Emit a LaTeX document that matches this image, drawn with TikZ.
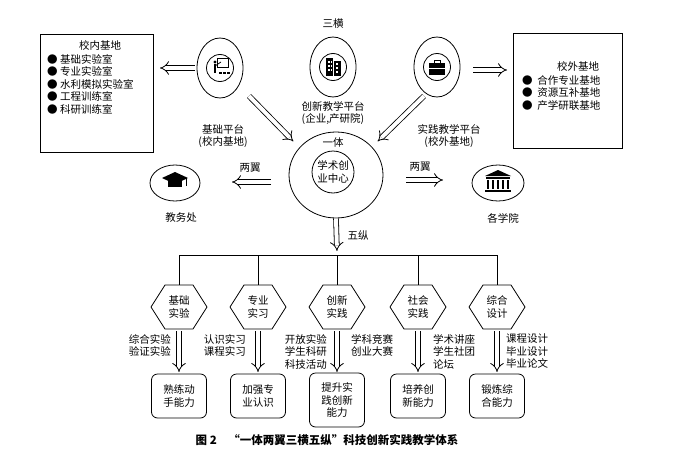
\documentclass[tikz,border=0pt]{standalone}
\usepackage{fontspec}
\setmainfont{Noto Sans CJK SC}
\usetikzlibrary{shapes.geometric,arrows.meta}
\begin{document}
\begin{tikzpicture}[x=1pt,y=-1pt,font=\fontsize{10.5}{12.5}\selectfont,
  box/.style={draw,thick,fill=white},
  hol/.style={draw,double,double distance=4pt,thick,-{Implies},shorten >=1pt},
  rr/.style={draw,thick,rounded corners=6pt,minimum width=55pt,minimum height=44pt,align=center},
  lab/.style={align=center,inner sep=1pt}]
\useasboundingbox (0,0) rectangle (700,460);
% boxes
\node[box,minimum width=113pt,minimum height=118pt] (lb) at (96.5,93) {};
\node[lab] (lbt) at (100,45) {校内基地};
\node[lab,align=left,anchor=north west] (lbl) at (46,53) {●\ 基础实验室\\●\ 专业实验室\\●\ 水利模拟实验室\\●\ 工程训练室\\●\ 科研训练室};
\node[box,minimum width=109pt,minimum height=115pt] (rb) at (567.5,90.5) {};
\node[lab] (rbt) at (578,66) {校外基地};
\node[lab,align=left,anchor=north west] (rbl) at (521,74) {●\ \ 合作专业基地\\●\ \ 资源互补基地\\●\ \ 产学研联基地};
% top circles
\node[draw,thick,ellipse,minimum width=46pt,minimum height=60pt] (c1) at (220,68) {};
\node[draw,thick,circle,minimum size=27pt] (i1) at (220,68) {};
\node[draw,thick,ellipse,minimum width=46pt,minimum height=60pt] (c2) at (333,67) {};
\node[draw,thick,circle,minimum size=27pt] (i2) at (333,67) {};
\node[draw,thick,ellipse,minimum width=46pt,minimum height=60pt] (c3) at (437,67) {};
\node[draw,thick,circle,minimum size=27pt] (i3) at (437,67) {};
% icons
\fill (215,62) circle (1.6);
\draw[line width=1.5pt] (215,64)--(215,73);
\draw[thick] (217,58) rectangle (228,67);
\draw[thick] (215,66)--(221,62);
\foreach \i in {219,223,227} \fill (\i,74) rectangle ++(2.5,-2.5);
\fill (326,58) rectangle (333,76); \fill (334,61) rectangle (341,76);
\foreach \yy in {61,65,69} {\fill[white] (328,\yy) rectangle ++(1.5,2); \fill[white] (331,\yy) rectangle ++(1,2); \fill[white] (336,\yy+2) rectangle ++(1.5,2);}
\fill (429,63) rectangle (445,75);
\draw[thick] (434,63)--(434,60)--(440,60)--(440,63);
\draw[white,thick] (429,68)--(445,68);
% texts top
\node[lab] (t3) at (333,24) {三横};
\node[lab] (t2) at (333,113) {创新教学平台\\(企业,产研院)};
\node[lab] (t1) at (223,136) {基础平台\\(校内基地)};
\node[lab] (t4) at (449,136) {实践教学平台\\(校外基地)};
% center
\node[draw,thick,ellipse,minimum width=94pt,minimum height=86pt] (cen) at (336,175) {};
\node[draw,thick,circle,minimum size=42pt,lab] (cin) at (333,172) {学术创\\业中心};
\node[lab] (yt) at (333,143) {一体};
% wings
\node[draw,thick,ellipse,minimum width=50pt,minimum height=36pt] (jw) at (175,183) {};
\node[lab] (jwt) at (181,218) {教务处};
\node[draw,thick,ellipse,minimum width=52pt,minimum height=36pt] (gx) at (498,183) {};
\node[lab] (gxt) at (503,218) {各学院};
\fill (162,178)--(175,172)--(188,178)--(175,184)--cycle;
\fill (168,181) rectangle (182,187);
\draw (186,178)--(186,186);
\fill (485,176)--(498,170)--(511,176)--cycle;
\fill (486,177) rectangle (510,179);
\foreach \i in {488,493,498,503,508} \fill (\i-1.2,180) rectangle ++(2.4,9);
\fill (485,190) rectangle (511,192);
% hollow arrows
\coordinate (a1s) at (195,68); \coordinate (a1e) at (159,68);
\draw[hol] (a1s)--(a1e);
\coordinate (a2s) at (473,70); \coordinate (a2e) at (508,70);
\draw[hol] (a2s)--(a2e);
\coordinate (d1s) at (249,96); \coordinate (d1e) at (294,142);
\draw[hol] (d1s)--(d1e);
\coordinate (d2s) at (424,96); \coordinate (d2e) at (377,142);
\draw[hol] (d2s)--(d2e);
\coordinate (w1s) at (271,182); \coordinate (w1e) at (231,182);
\draw[hol] (w1s)--(w1e);
\coordinate (w2s) at (406,180); \coordinate (w2e) at (444,180);
\draw[hol] (w2s)--(w2e);
\node[lab] (lw1) at (250,168) {两翼};
\node[lab] (lw2) at (420,167) {两翼};
\coordinate (vd) at (337,252);
\draw[hol] (cen.south)--(vd);
\node[lab] (wz) at (358,236) {五纵};
% bus
\coordinate (bl) at (179,255); \coordinate (br) at (497,255);
\draw[thick] (bl)--(br);
\foreach \x/\n/\t in {179/1/基础\\实验, 258/2/专业\\实习, 337/3/创新\\实践, 418/4/社会\\实践, 497/5/综合\\设计}{
  \draw[thick] (\x-28,307)--(\x-14,285)--(\x+14,285)--(\x+28,307)--(\x+14,329)--(\x-14,329)--cycle;
  \node[lab] (ht\n) at (\x,307) {\t};
  \coordinate (hn\n) at (\x,285);
  \draw[thick] (\x,255)--(hn\n);
  \coordinate (s\n) at (\x,331);
  \coordinate (e\n) at (\x,373);
  \draw[hol] (s\n)--(e\n);
}
\node[rr] (b1) at (179,396) {熟练动\\手能力};
\node[rr] (b2) at (258,396) {加强专\\业认识};
\node[rr,minimum height=54pt] (b3) at (337,400) {提升实\\践创新\\能力};
\node[rr] (b4) at (418,396) {培养创\\新能力};
\node[rr] (b5) at (497,396) {锻炼综\\合能力};
\node[lab,align=left,anchor=north east] (l1) at (172,333) {综合实验\\验证实验};
\node[lab,align=left,anchor=north east] (l2) at (247,333) {认识实习\\课程实习};
\node[lab,align=left,anchor=north east] (l3) at (328,333) {开放实验\\学生科研\\科技活动};
\node[lab,align=left,anchor=north west] (r3) at (350,333) {学科竞赛\\创业大赛};
\node[lab,align=left,anchor=north west] (r4) at (432,333) {学术讲座\\学生社团\\论坛};
\node[lab,align=left,anchor=north west] (r5) at (505,333) {课程设计\\毕业设计\\毕业论文};
\node[lab,font=\fontsize{11.5}{13}\selectfont\bfseries] (cap) at (327,440) {图 2\quad “一体两翼三横五纵”科技创新实践教学体系};
\end{tikzpicture}
\end{document}
